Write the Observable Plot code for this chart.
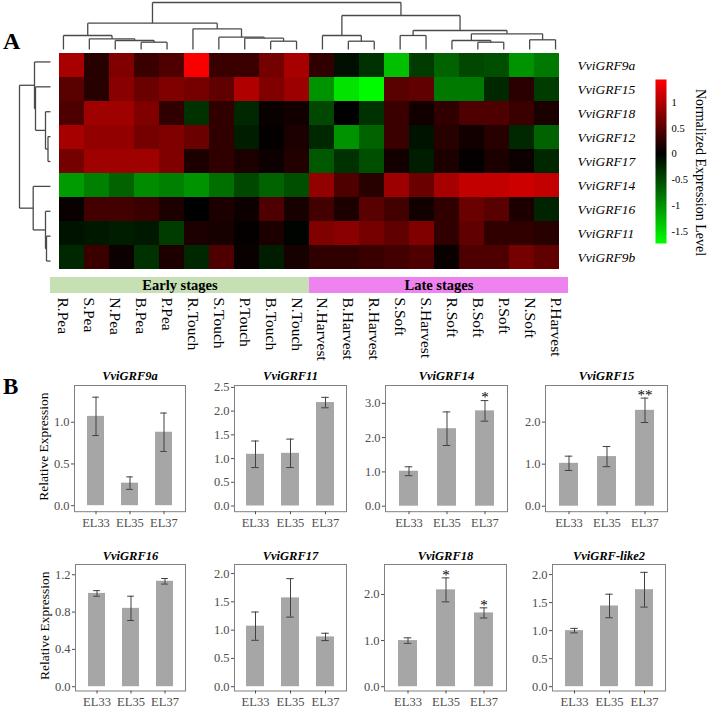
<!DOCTYPE html>
<html><head><meta charset="utf-8">
<script src="https://cdn.jsdelivr.net/npm/d3@7"></script>
<script src="https://cdn.jsdelivr.net/npm/@observablehq/plot@0.6"></script>
<style>
body{margin:0;background:#fff;}
#root{position:relative;width:709px;height:709px;overflow:hidden;font-family:"Liberation Serif",serif;background:#fff;}
#root svg{position:absolute;overflow:visible;max-width:none;background:transparent;font-family:"Liberation Serif",serif !important;}
#root svg text{font-family:"Liberation Serif",serif !important;}
.panel{position:absolute;font-weight:bold;font-family:"Liberation Serif",serif;color:#000;line-height:1;}
</style></head>
<body><div id="root"></div>
<script>
// ---------- DATA ----------
const colNames = ["R.Pea","S.Pea","N.Pea","B.Pea","P.Pea","R.Touch","S.Touch","P.Touch","B.Touch","N.Touch",
  "N.Harvest","B.Harvest","R.Harvest","S.Soft","S.Harvest","R.Soft","B.Soft","P.Soft","N.Soft","P.Harvest"];
const rowNames = ["VviGRF9a","VviGRF15","VviGRF18","VviGRF12","VviGRF17","VviGRF14","VviGRF16","VviGRF11","VviGRF9b"];
const heatValues = [
  [0.95,0.22,0.72,0.33,0.44,1.40,0.33,0.33,0.66,0.94, 0.27,-0.10,-0.33,-1.30,-0.40,-0.67,-0.48,-0.53,-1.00,-0.82],
  [0.50,0.22,0.77,0.60,0.72,0.66,0.55,1.00,0.72,0.88, -1.00,-1.55,-1.70,0.50,0.55,-0.82,-0.82,-0.27,0.24,-0.40],
  [0.44,0.90,0.90,0.72,0.27,-0.33,0.27,-0.27,0.05,0.10, -0.48,0.00,-0.33,0.33,0.10,0.27,0.44,0.44,0.33,0.15],
  [0.94,0.83,0.83,0.66,0.72,0.60,0.27,-0.20,0.02,0.16, -0.27,-1.00,-0.67,0.33,-0.13,0.22,0.10,0.22,-0.27,-0.67],
  [0.66,0.90,0.90,0.90,0.72,0.16,0.27,0.16,0.07,0.19, -0.60,-0.33,-0.53,0.10,-0.20,0.16,0.02,0.16,0.07,-0.27],
  [-1.05,-0.87,-0.67,-0.95,-0.87,-1.00,-0.75,-0.48,-0.67,-0.53, 0.83,0.44,0.22,0.88,0.60,0.94,1.10,1.10,1.16,1.10],
  [0.05,0.38,0.38,0.33,0.16,0.00,0.16,0.07,0.44,0.13, 0.38,0.16,0.50,0.38,0.10,0.27,0.60,0.50,0.16,-0.24],
  [-0.13,-0.16,-0.20,-0.16,-0.40,0.16,0.13,0.02,0.16,-0.03, 0.72,0.78,0.66,0.55,0.72,0.27,0.55,0.27,0.27,0.22],
  [-0.27,0.33,0.07,-0.33,0.16,-0.27,0.44,0.05,-0.20,0.13, 0.27,0.27,0.33,0.38,0.44,0.05,0.44,0.44,0.66,0.55]
];
// hierarchical clustering (hclust-style merge: negative = leaf index in display order, positive = earlier merge)
const colMerge = [[-4,-5],[-3,1],[-2,2],[-1,3],[-9,-10],[-8,5],[-7,6],[-6,7],[4,8],
  [-12,-13],[-11,10],[-14,-15],[-17,-18],[-16,13],[-19,-20],[14,15],[12,16],[11,17],[9,18]];
const colHeight = [7.3,9,10.7,14,8.3,11.3,12.3,20.7,26.3,8.3,14,14,7.3,9,9.7,15.7,19,34,47];
const rowMerge = [[-4,-5],[-3,1],[-2,2],[-1,3],[-8,-9],[-7,5],[-6,6],[4,7]];
const rowHeight = [2.5,5,15,16,4,5,17.3,31];
const stageNames = ["Early stages","Late stages"];
const stageCounts = [10,10];
const legendTicks = [1,0.5,0,-0.5,-1,-1.5];

const barGenes = ["VviGRF9a","VviGRF11","VviGRF14","VviGRF15","VviGRF16","VviGRF17","VviGRF18","VviGRF-like2"];
const barStages = ["EL33","EL35","EL37"];
const barMeans = [[1.07,0.27,0.88],[1.09,1.11,2.18],[1.02,2.26,2.78],[1.02,1.18,2.28],
  [1.00,0.84,1.13],[1.07,1.57,0.88],[1.00,2.10,1.60],[1.00,1.44,1.73]];
const barSE = [[0.23,0.075,0.23],[0.28,0.30,0.11],[0.13,0.49,0.30],[0.17,0.24,0.29],
  [0.03,0.13,0.03],[0.25,0.34,0.065],[0.06,0.26,0.11],[0.04,0.21,0.31]];
const barSig = [["","",""],["","",""],["","","*"],["","","**"],["","",""],["","",""],["","*","*"],["","",""]];
const barTicks = [[0,0.5,1],[0,0.5,1,1.5,2,2.5],[0,1,2,3],[0,1,2],[0,0.4,0.8,1.2],[0,0.5,1,1.5,2],[0,1,2],[0,0.5,1,1.5,2]];

// ---------- LAYOUT / STYLE ----------
const FONT = "Liberation Serif";
const colorDomain = [-1.73, 0, 1.44];
const colorOpts = {type:"linear", domain: colorDomain, range:["#00ff00","#000000","#ff0000"], interpolate:"rgb"};
const stageColors = ["#c6e0b4","#ee82ee"];
const panels = [ // frame left, top, width, height, y domain
  [73.5,385.3,111,126.2,[-0.072,1.44]],
  [234,385.3,112,126.2,[-0.12,2.54]],
  [384.5,385.3,122,126.2,[-0.16,3.52]],
  [545,385.3,122,126.2,[-0.13,2.87]],
  [74.5,563.5,110,126.5,[-0.046,1.31]],
  [233.5,563.5,112,126.5,[-0.076,2.16]],
  [384,563.5,122,126.5,[-0.093,2.65]],
  [552,563.5,113,126.5,[-0.077,2.18]]
];
const root = document.getElementById("root");
function place(svg, left, top){ svg.style.left = left + "px"; svg.style.top = top + "px"; root.appendChild(svg); }

function dendroSegments(merge, heights){
  const pos = [], hgt = [], segs = [];
  const get = k => k < 0 ? {p: -k - 0.5, h: 0} : {p: pos[k-1], h: hgt[k-1]};
  merge.forEach(([a,b], i) => {
    const A = get(a), B = get(b), h = heights[i];
    segs.push({p1:A.p, h1:A.h, p2:A.p, h2:h});
    segs.push({p1:B.p, h1:B.h, p2:B.p, h2:h});
    segs.push({p1:A.p, h1:h, p2:B.p, h2:h});
    pos[i] = (A.p + B.p)/2; hgt[i] = h;
  });
  return segs;
}

// ---------- HEATMAP ----------
const cells = [];
rowNames.forEach((r,i) => colNames.forEach((c,j) => cells.push({row:r, col:c, value:heatValues[i][j]})));
const heat = Plot.plot({
  width: 518 + 100, height: 224, marginLeft: 0, marginRight: 100, marginTop: 0, marginBottom: 0,
  style: {fontFamily: FONT, background: "transparent"},
  x: {type:"band", domain: colNames, padding: 0, axis: null},
  y: {type:"band", domain: rowNames, padding: 0},
  color: colorOpts,
  marks: [
    Plot.cell(cells, {x:"col", y:"row", fill:"value", inset:0, shapeRendering:"crispEdges"}),
    Plot.axisY({anchor:"right", tickSize:0, tickPadding:9, fontSize:13.5, fontStyle:"italic", fill:"#000", label:null})
  ]
});
place(heat, 50, 49);

// column dendrogram
const colDend = Plot.plot({
  width: 518, height: 49, marginLeft:0, marginRight:0, marginTop:2, marginBottom:0,
  style: {background:"transparent"},
  x: {domain:[0, colNames.length], axis:null},
  y: {domain:[0, d3.max(colHeight)], axis:null},
  marks: [Plot.link(dendroSegments(colMerge, colHeight), {x1:"p1", y1:"h1", x2:"p2", y2:"h2", stroke:"#4a4a4a", strokeWidth:1.3})]
});
place(colDend, 50, 0);

// row dendrogram
const rowDend = Plot.plot({
  width: 50, height: 224, marginLeft:19, marginRight:0, marginTop:0, marginBottom:0,
  style: {background:"transparent"},
  x: {domain:[d3.max(rowHeight), 0], axis:null},
  y: {domain:[rowNames.length, 0], axis:null},
  marks: [Plot.link(dendroSegments(rowMerge, rowHeight), {x1:"h1", y1:"p1", x2:"h2", y2:"p2", stroke:"#4a4a4a", strokeWidth:1.3})]
});
place(rowDend, 0, 49);

// stage bar + column labels
let acc = 0;
const stageData = stageNames.map((s,i) => { const d = {name:s, start:acc, end:acc + stageCounts[i], color:stageColors[i]}; acc += stageCounts[i]; return d; });
const colLab = Plot.plot({
  width: 518, height: 100, marginLeft:0, marginRight:0, marginTop:4, marginBottom:80,
  style: {fontFamily: FONT, background:"transparent"},
  x: {domain:[0, colNames.length]},
  marks: [
    Plot.rect(stageData, {x1:"start", x2:"end", fill:"color"}),
    Plot.text(stageData, {x: d => (d.start + d.end)/2, text:"name", fontWeight:"bold", fontSize:14.5, fill:"#000"}),
    Plot.axisX({ticks: colNames.map((_,i) => i + 0.5), tickFormat: v => colNames[Math.floor(v)], tickRotate:90,
      tickSize:0, tickPadding:4, fontSize:15.5, fill:"#000", label:null})
  ]
});
place(colLab, 50, 273);

// color legend
const legend = Plot.plot({
  width: 69, height: 200, marginLeft:15, marginRight:43, marginTop:19, marginBottom:17,
  style: {fontFamily: FONT, background:"transparent"},
  x: {domain:[0,1], axis:null},
  y: {domain:[colorDomain[0], colorDomain[2]]},
  color: colorOpts,
  marks: [
    Plot.raster({x1:0, x2:1, y1:colorDomain[0], y2:colorDomain[2], width:1, height:164, fill:(x,y) => y}),
    Plot.axisY({anchor:"right", ticks: legendTicks, tickFormat: d => String(d), tickSize:0, tickPadding:5, fontSize:10.5, fill:"#000", label:null}),
    Plot.text(["Normalized Expression Level"], {frameAnchor:"middle", rotate:90, dx:39.5, dy:11, fontSize:14, fill:"#000"})
  ]
});
place(legend, 640, 60);

// ---------- BAR PANELS ----------
barGenes.forEach((gene, k) => {
  const [fl, ft, fw, fh, ydom] = panels[k];
  const withLabel = k % 4 === 0;
  const mL = withLabel ? 64 : 36, mT = 18, mB = 26, mR = 6;
  const data = barStages.map((s,i) => ({stage:s, mean:barMeans[k][i], se:barSE[k][i], sig:barSig[k][i]}));
  const step = fw / 3.2;
  const marks = [
    Plot.barY(data, {x:"stage", y:"mean", fill:"#a6a6a6"}),
    Plot.ruleX(data, {x:"stage", y1: d => d.mean - d.se, y2: d => d.mean + d.se, stroke:"#404040", strokeWidth:1}),
    Plot.tickY(data, {x:"stage", y: d => d.mean + d.se, insetLeft: step*0.15, insetRight: step*0.15, stroke:"#404040", strokeWidth:1}),
    Plot.tickY(data, {x:"stage", y: d => d.mean - d.se, insetLeft: step*0.15, insetRight: step*0.15, stroke:"#404040", strokeWidth:1}),
    Plot.text(data.filter(d => d.sig), {x:"stage", y: d => d.mean + d.se, text:"sig", dy:-3, fontSize:15, fill:"#000"}),
    Plot.frame({stroke:"#808080", strokeWidth:1}),
    Plot.axisY({ticks: barTicks[k], tickFormat: d3.format(".1f"), tickSize:3, tickPadding:2, fontSize:12.5, color:"#4d4d4d", label:null}),
    Plot.axisX({tickSize:3, tickPadding:3, fontSize:12.5, color:"#4d4d4d", label:null}),
    Plot.text([gene], {frameAnchor:"top", lineAnchor:"middle", dy:-9, fontWeight:"bold", fontStyle:"italic", fontSize:12.5, fill:"#000"})
  ];
  if (withLabel) marks.push(Plot.text(["Relative Expression"], {frameAnchor:"left", textAnchor:"middle", lineAnchor:"middle", rotate:-90, dx:-31, dy:-2, fontSize:13.5, fill:"#000"}));
  const p = Plot.plot({
    width: mL + fw + mR, height: mT + fh + mB, marginLeft:mL, marginRight:mR, marginTop:mT, marginBottom:mB,
    style: {fontFamily: FONT, background:"transparent"},
    x: {type:"band", domain: barStages, paddingInner:0.5, paddingOuter:0.35},
    y: {domain: ydom},
    marks
  });
  place(p, fl - mL, ft - mT);
});

// panel letters
[["A", 3, 29, 24], ["B", 3, 375, 23]].forEach(([t, x, y, s]) => {
  const d = document.createElement("div");
  d.className = "panel"; d.textContent = t;
  d.style.left = x + "px"; d.style.top = y + "px"; d.style.fontSize = s + "px";
  root.appendChild(d);
});
</script>
</body></html>
